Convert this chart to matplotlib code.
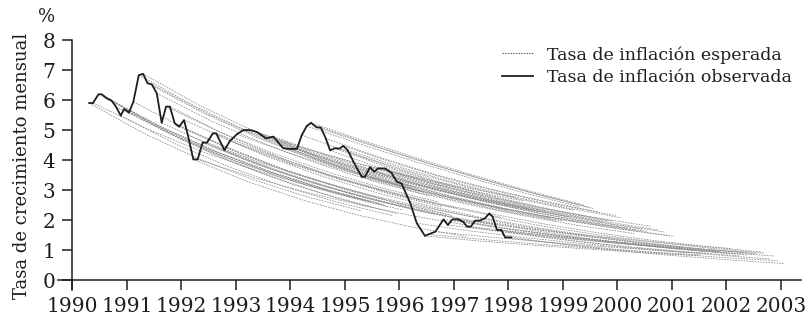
import matplotlib
matplotlib.use("Agg")
import matplotlib.pyplot as plt

plt.rcParams['font.family'] = ['DejaVu Serif']

# observed monthly inflation (%)
obs_year = [1990.31, 1990.38, 1990.48, 1990.54, 1990.63, 1990.72, 1990.80, 1990.89,
            1990.95, 1991.04, 1991.12, 1991.22, 1991.30, 1991.38, 1991.46, 1991.55,
            1991.64, 1991.72, 1991.79, 1991.88, 1991.96, 1992.05, 1992.12, 1992.22,
            1992.30, 1992.39, 1992.47, 1992.58, 1992.64, 1992.79, 1992.89, 1993.02,
            1993.14, 1993.26, 1993.38, 1993.47, 1993.55, 1993.69, 1993.78, 1993.87,
            1993.99, 1994.12, 1994.21, 1994.30, 1994.38, 1994.48, 1994.56, 1994.65,
            1994.73, 1994.81, 1994.90, 1994.97, 1995.05, 1995.19, 1995.31, 1995.37,
            1995.46, 1995.54, 1995.61, 1995.74, 1995.86, 1995.95, 1996.04, 1996.20,
            1996.32, 1996.47, 1996.53, 1996.66, 1996.81, 1996.89, 1996.97, 1997.08,
            1997.17, 1997.24, 1997.31, 1997.39, 1997.48, 1997.57, 1997.65, 1997.71,
            1997.79, 1997.87, 1997.94, 1998.05]
obs_val = [5.90, 5.90, 6.19, 6.19, 6.06, 5.98, 5.78, 5.48,
           5.70, 5.58, 5.94, 6.83, 6.87, 6.56, 6.52, 6.22,
           5.24, 5.78, 5.78, 5.22, 5.11, 5.33, 4.83, 4.02,
           4.02, 4.58, 4.58, 4.89, 4.89, 4.33, 4.63, 4.86,
           5.00, 5.00, 4.94, 4.83, 4.72, 4.78, 4.58, 4.39,
           4.37, 4.37, 4.83, 5.13, 5.24, 5.09, 5.08, 4.72,
           4.32, 4.39, 4.38, 4.47, 4.33, 3.83, 3.44, 3.44,
           3.76, 3.61, 3.72, 3.72, 3.56, 3.28, 3.22, 2.56,
           1.89, 1.47, 1.52, 1.61, 2.02, 1.83, 2.02, 2.02,
           1.94, 1.78, 1.78, 1.98, 1.98, 2.06, 2.22, 2.11,
           1.67, 1.67, 1.42, 1.42]

# expected inflation path made each month: values 0..5 years ahead
fc_horizon = [0, 1, 2, 3, 4, 5]
fc_start = obs_year
fc_path = [
    [5.90, 4.89, 4.05, 3.35, 2.77, 2.30],
    [5.90, 5.03, 4.28, 3.65, 3.11, 2.66],
    [6.19, 5.21, 4.38, 3.68, 3.10, 2.60],
    [6.19, 5.13, 4.25, 3.52, 2.91, 2.41],
    [6.06, 5.10, 4.28, 3.61, 3.03, 2.55],
    [5.98, 5.03, 4.23, 3.56, 2.99, 2.51],
    [5.78, 4.86, 4.09, 3.44, 2.89, 2.43],
    [5.48, 4.54, 3.76, 3.11, 2.58, 2.14],
    [5.70, 4.72, 3.91, 3.24, 2.68, 2.22],
    [5.58, 4.69, 3.94, 3.32, 2.79, 2.34],
    [5.94, 5.00, 4.20, 3.53, 2.97, 2.49],
    [6.83, 5.82, 4.96, 4.23, 3.60, 3.07],
    [6.87, 5.85, 4.99, 4.25, 3.62, 3.09],
    [6.56, 5.59, 4.76, 4.06, 3.46, 2.95],
    [6.52, 5.56, 4.73, 4.04, 3.44, 2.93],
    [6.22, 5.30, 4.52, 3.85, 3.28, 2.80],
    [5.24, 4.41, 3.70, 3.12, 2.62, 2.20],
    [5.78, 4.92, 4.20, 3.58, 3.05, 2.60],
    [5.78, 4.86, 4.09, 3.44, 2.89, 2.43],
    [5.22, 4.39, 3.69, 3.11, 2.61, 2.19],
    [5.11, 4.30, 3.61, 3.04, 2.56, 2.15],
    [5.33, 4.54, 3.87, 3.30, 2.81, 2.40],
    [4.83, 4.06, 3.41, 2.87, 2.42, 2.03],
    [4.02, 3.28, 2.67, 2.17, 1.77, 1.45],
    [4.02, 3.43, 2.92, 2.49, 2.12, 1.81],
    [4.58, 3.85, 3.24, 2.73, 2.29, 1.92],
    [4.58, 3.90, 3.33, 2.83, 2.41, 2.06],
    [4.89, 4.11, 3.46, 2.91, 2.45, 2.05],
    [4.89, 4.17, 3.55, 3.03, 2.58, 2.20],
    [4.33, 3.64, 3.06, 2.58, 2.17, 1.82],
    [4.63, 3.94, 3.36, 2.87, 2.44, 2.08],
    [4.86, 4.20, 3.63, 3.13, 2.71, 2.33],
    [5.00, 4.44, 3.93, 3.49, 3.10, 2.75],
    [5.00, 4.40, 3.87, 3.41, 3.00, 2.64],
    [4.94, 4.27, 3.69, 3.19, 2.75, 2.37],
    [4.83, 4.17, 3.60, 3.12, 2.69, 2.32],
    [4.72, 4.08, 3.52, 3.04, 2.63, 2.27],
    [4.78, 4.13, 3.57, 3.08, 2.66, 2.29],
    [4.58, 3.90, 3.33, 2.83, 2.41, 2.06],
    [4.39, 3.74, 3.19, 2.72, 2.31, 1.98],
    [4.37, 3.72, 3.17, 2.71, 2.30, 1.97],
    [4.37, 3.78, 3.26, 2.82, 2.43, 2.10],
    [4.83, 4.17, 3.60, 3.12, 2.69, 2.32],
    [5.13, 4.52, 3.94, 3.40, 2.90, 2.44],
    [5.24, 4.62, 4.03, 3.48, 2.97, 2.50],
    [5.09, 4.49, 3.91, 3.38, 2.88, 2.42],
    [5.08, 4.46, 3.88, 3.34, 2.84, 2.38],
    [4.72, 4.08, 3.52, 3.04, 2.63, 2.27],
    [4.32, 3.68, 3.14, 2.67, 2.28, 1.94],
    [4.39, 3.74, 3.19, 2.72, 2.31, 1.98],
    [4.38, 3.73, 3.18, 2.71, 2.31, 1.97],
    [4.47, 3.86, 3.33, 2.88, 2.49, 2.15],
    [4.33, 3.74, 3.23, 2.79, 2.41, 2.08],
    [3.83, 3.26, 2.78, 2.37, 2.02, 1.72],
    [3.44, 2.93, 2.50, 2.13, 1.81, 1.55],
    [3.44, 2.97, 2.57, 2.22, 1.92, 1.65],
    [3.76, 3.20, 2.73, 2.33, 1.98, 1.69],
    [3.61, 3.08, 2.62, 2.23, 1.90, 1.62],
    [3.72, 3.21, 2.78, 2.40, 2.07, 1.79],
    [3.72, 3.17, 2.70, 2.30, 1.96, 1.67],
    [3.56, 3.03, 2.58, 2.20, 1.88, 1.60],
    [3.28, 2.79, 2.38, 2.03, 1.73, 1.48],
    [3.22, 2.74, 2.34, 1.99, 1.70, 1.45],
    [2.56, 2.15, 1.81, 1.52, 1.28, 1.08],
    [1.89, 1.63, 1.41, 1.22, 1.05, 0.91],
    [1.47, 1.30, 1.16, 1.03, 0.91, 0.81],
    [1.52, 1.35, 1.20, 1.06, 0.94, 0.84],
    [1.61, 1.43, 1.27, 1.12, 1.00, 0.89],
    [2.02, 1.75, 1.51, 1.30, 1.13, 0.97],
    [1.83, 1.61, 1.41, 1.24, 1.09, 0.95],
    [2.02, 1.72, 1.47, 1.25, 1.06, 0.91],
    [2.02, 1.77, 1.56, 1.37, 1.20, 1.05],
    [1.94, 1.65, 1.41, 1.20, 1.02, 0.87],
    [1.78, 1.52, 1.29, 1.10, 0.94, 0.80],
    [1.78, 1.56, 1.37, 1.21, 1.06, 0.93],
    [1.98, 1.67, 1.40, 1.18, 0.99, 0.83],
    [1.98, 1.69, 1.44, 1.23, 1.04, 0.89],
    [2.06, 1.73, 1.46, 1.23, 1.03, 0.87],
    [2.22, 1.87, 1.57, 1.32, 1.11, 0.93],
    [2.11, 1.77, 1.49, 1.26, 1.06, 0.89],
    [1.67, 1.40, 1.18, 0.99, 0.84, 0.70],
    [1.67, 1.44, 1.25, 1.08, 0.93, 0.80],
    [1.42, 1.21, 1.03, 0.88, 0.75, 0.64],
    [1.42, 1.18, 0.97, 0.81, 0.67, 0.55],
]

years = list(range(1990, 2004))
yticks = list(range(0, 9))
ink = '#1e1e1e'

fig = plt.figure(figsize=(8.05, 3.2), dpi=100)
ax = fig.add_axes([58 / 805, 30 / 320, 743 / 805, 250 / 320])

dash = (0, (2.2, 1.4))
for t0, path in zip(fc_start, fc_path):
    ax.plot([t0 + h for h in fc_horizon], path, color='#8a8a8a', lw=0.55,
            linestyle=dash, zorder=1)
ax.plot(obs_year, obs_val, color=ink, lw=1.3, zorder=3)

ax.set_xlim(1989.738, 2003.367)
ax.set_ylim(-0.333, 8)
ax.spines['left'].set_position(('data', 1990))
ax.spines['bottom'].set_position(('data', 0))
ax.spines['top'].set_visible(False)
ax.spines['right'].set_visible(False)
for s in ('left', 'bottom'):
    ax.spines[s].set_linewidth(1.1)
    ax.spines[s].set_color(ink)
ax.set_xticks(years)
ax.set_yticks(yticks)
ax.tick_params(axis='both', direction='out', length=7, width=1.1, color=ink,
               labelsize=14.5, labelcolor=ink)
ax.tick_params(axis='y', pad=5)
ax.tick_params(axis='x', pad=5)

fig.text(22 / 805, 1 - 166 / 320, 'Tasa de crecimiento mensual', rotation=90,
         ha='center', va='center', fontsize=13, color=ink)
fig.text(47 / 805, 1 - 17 / 320, '%', ha='center', va='center', fontsize=13,
         color=ink)

h1, = ax.plot([], [], color='#555555', lw=0.8, linestyle=(0, (1.2, 1.2)))
h2, = ax.plot([], [], color=ink, lw=1.3)
fig.legend([h1, h2], ['Tasa de inflación esperada', 'Tasa de inflación observada'],
           loc='upper left', bbox_to_anchor=(502 / 805, 1 - 46 / 320),
           frameon=False, fontsize=12.5, handlelength=1.8, handletextpad=0.8,
           labelspacing=0.3, borderpad=0, borderaxespad=0, labelcolor=ink)

fig.savefig('out.png', dpi=100)
